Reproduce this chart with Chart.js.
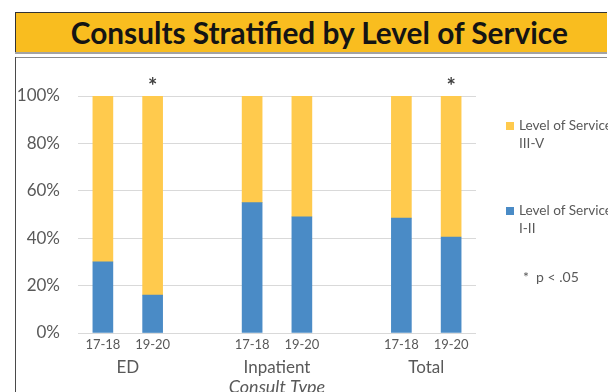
<!DOCTYPE html>
<html>
<head>
<meta charset="utf-8">
<script src="https://cdn.jsdelivr.net/npm/chart.js@4.4.0/dist/chart.umd.min.js"></script>
<style>
  html, body { margin: 0; padding: 0; background: #fff; width: 608px; height: 392px; overflow: hidden; }
  #root { position: absolute; left: 0; top: 0; width: 608px; height: 392px; overflow: hidden; font-family: Lato, "Open Sans", sans-serif; }
  #banner {
    position: absolute; left: 15px; top: 12px; width: 592px; height: 40px;
    background: #F9BD1F; box-sizing: border-box;
    border-top: 1px solid #333; border-left: 1px solid #333;
  }
  #shadow { position: absolute; left: 15px; top: 52px; width: 592px; height: 2px; background: #a3a3a3; }
  #title {
    position: absolute; left: 15px; top: 17px; width: 593px; text-align: center; white-space: nowrap;
    font-family: Lato, sans-serif; font-weight: 700; font-size: 30px; line-height: 30px;
    color: #141414;
  }
  #title span { display: inline-block; transform-origin: 50% 50%; }
  #frameTop { position: absolute; left: 15px; top: 57px; width: 592px; height: 1px; background: #8c8c8c; }
  #frameLeft { position: absolute; left: 15px; top: 57px; width: 1px; height: 335px; background: #4a4a4a; }
  #chart { position: absolute; left: 0; top: 0; display: block; }
  .legend-item { position: absolute; left: 506px; font-size: 13.6px; line-height: 18px; color: #595959; white-space: nowrap; }
  .legend-item .swatch { position: absolute; left: 0; top: 6px; width: 8px; height: 8px; }
  .legend-item .text { position: absolute; left: 13px; top: 0; }
  #note { position: absolute; left: 523px; top: 268px; font-size: 14px; line-height: 18px; color: #595959; white-space: pre; }
</style>
</head>
<body>
<div id="root">
  <div id="banner"></div>
  <div id="shadow"></div>
  <div id="title"><span>Consults Stratified by Level of Service</span></div>
  <div id="frameTop"></div>
  <div id="frameLeft"></div>
  <canvas id="chart" width="608" height="392"></canvas>
  <div id="legend"></div>
  <div id="note">*  p &lt; .05</div>
</div>
<script>
// Fiscal-year pairs per consult type; blank slots separate the groups
const categories = ['17-18', '19-20', '', '17-18', '19-20', '', '17-18', '19-20'];
const groups = ['ED', 'Inpatient', 'Total'];
const groupSlots = [[0, 1], [3, 4], [6, 7]];
const axisTitle = 'Consult Type';

// Share of consults (%) by level of service
const levelI_II   = [30, 16, null, 55, 49, null, 48.5, 40.5];
const levelIII_V  = [70, 84, null, 45, 51, null, 51.5, 59.5];
const significant = [false, true, false, false, false, false, false, true];

const yTicks = [0, 20, 40, 60, 80, 100];

const BLUE = '#4A8BC6';
const YELLOW = '#FFCA4D';
const TEXT = '#595959';
const FONT = 'Lato, "Open Sans", sans-serif';

// Condense the banner title to its width, centred a little right of the banner middle
(function () {
  const s = document.querySelector('#title span');
  const w = s.getBoundingClientRect().width;
  const target = 497;
  s.style.transform = 'translateX(8px) scaleX(' + (target / w) + ')';
})();

const groupLabels = {
  id: 'groupLabels',
  afterDraw(chart) {
    const { ctx, scales: { x, y } } = chart;
    ctx.save();
    ctx.fillStyle = TEXT;
    ctx.textAlign = 'center';
    ctx.textBaseline = 'alphabetic';
    ctx.font = '17px ' + FONT;
    groups.forEach((g, i) => {
      const [a, b] = groupSlots[i];
      const cx = (x.getPixelForValue(a) + x.getPixelForValue(b)) / 2;
      ctx.fillText(g, cx, 373);
    });
    // axis title under the middle group
    ctx.font = 'italic 18px ' + FONT;
    const [a, b] = groupSlots[1];
    ctx.fillText(axisTitle, (x.getPixelForValue(a) + x.getPixelForValue(b)) / 2, 393);
    // significance markers above the bars, centred 15px over the top
    ctx.fillStyle = '#404040';
    ctx.font = 'bold 22px ' + FONT;
    const m = ctx.measureText('*');
    const mid = (m.actualBoundingBoxAscent - m.actualBoundingBoxDescent) / 2;
    significant.forEach((s, i) => {
      if (!s) return;
      ctx.fillText('*', x.getPixelForValue(i), y.getPixelForValue(100) - 15 + mid);
    });
    ctx.restore();
  }
};

const chart = new Chart(document.getElementById('chart'), {
  type: 'bar',
  data: {
    labels: categories,
    datasets: [
      { label: 'Level of Service I-II', data: levelI_II, backgroundColor: BLUE, barThickness: 20 },
      { label: 'Level of Service III-V', data: levelIII_V, backgroundColor: YELLOW, barThickness: 20 }
    ]
  },
  options: {
    responsive: false,
    animation: false,
    devicePixelRatio: 1,
    layout: { padding: { top: 96, right: 132, left: 0, bottom: 0 } },
    plugins: { legend: { display: false }, tooltip: { enabled: false } },
    scales: {
      x: {
        stacked: true,
        grid: { display: false, drawTicks: false },
        border: { display: false },
        ticks: { color: TEXT, font: { family: FONT, size: 13 }, padding: 4, autoSkip: false, maxRotation: 0 },
        afterFit(scale) { scale.height = 59; }
      },
      y: {
        stacked: true,
        min: 0, max: 100,
        afterBuildTicks(scale) { scale.ticks = yTicks.map(v => ({ value: v })); },
        grid: { color: '#D9D9D9', lineWidth: 1, drawTicks: false },
        border: { display: false },
        ticks: { color: TEXT, font: { family: FONT, size: 17 }, padding: 18, callback: v => v + '%' },
        afterFit(scale) { scale.width = 78; }
      }
    }
  },
  plugins: [groupLabels]
});

// Legend built from the datasets, upper level listed first
(function () {
  const host = document.getElementById('legend');
  const tops = [116, 201];
  const order = [1, 0];
  const second = ['III-V', 'I-II'];
  order.forEach((di, k) => {
    const ds = chart.data.datasets[di];
    const item = document.createElement('div');
    item.className = 'legend-item';
    item.style.top = tops[k] + 'px';
    const sw = document.createElement('div');
    sw.className = 'swatch';
    sw.style.background = ds.backgroundColor;
    const tx = document.createElement('div');
    tx.className = 'text';
    tx.innerHTML = 'Level of Service<br>' + second[k];
    item.appendChild(sw);
    item.appendChild(tx);
    host.appendChild(item);
  });
})();
</script>
</body>
</html>
